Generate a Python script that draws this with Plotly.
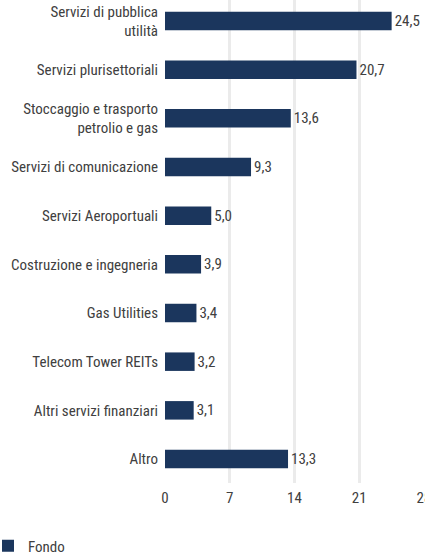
import plotly.graph_objects as go

categories = [
    "Servizi di pubblica<br>utilità",
    "Servizi plurisettoriali",
    "Stoccaggio e trasporto<br>petrolio e gas",
    "Servizi di comunicazione",
    "Servizi Aeroportuali",
    "Costruzione e ingegneria",
    "Gas Utilities",
    "Telecom Tower REITs",
    "Altri servizi finanziari",
    "Altro",
]
values = [24.5, 20.7, 13.6, 9.3, 5.0, 3.9, 3.4, 3.2, 3.1, 13.3]
x_ticks = [0, 7, 14, 21, 28]
series_name = "Fondo"

FONT = "Roboto Condensed, Roboto, sans-serif"
TEXT = "#404040"
BAR = "#1b365d"
FS = 15

fig = go.Figure(
    go.Bar(
        y=categories,
        x=values,
        orientation="h",
        name=series_name,
        marker=dict(color=BAR, line=dict(width=0)),
        width=0.38,
        text=values,
        texttemplate="%{x:.1f}",
        textposition="outside",
        cliponaxis=False,
        textfont=dict(family=FONT, size=FS, color=TEXT),
        showlegend=True,
    )
)

fig.update_layout(
    width=425,
    height=556,
    margin=dict(l=165, r=1, t=0, b=73),
    paper_bgcolor="white",
    plot_bgcolor="white",
    separators=",.",
    font=dict(family=FONT, size=FS, color=TEXT),
    bargap=0.6,
    xaxis=dict(
        range=[0, 28],
        tickvals=x_ticks,
        showgrid=True,
        gridcolor="#ebebeb",
        gridwidth=2.5,
        zeroline=False,
        showline=False,
        ticks="outside",
        ticklen=1,
        tickcolor="rgba(0,0,0,0)",
        tickfont=dict(family=FONT, size=FS, color=TEXT),
        ticklabeloverflow="allow",
        automargin=False,
        fixedrange=True,
    ),
    yaxis=dict(
        type="category",
        range=[9.493, -0.4315],
        showgrid=False,
        zeroline=False,
        showline=False,
        ticks="outside",
        ticklen=3,
        tickcolor="rgba(0,0,0,0)",
        tickfont=dict(family=FONT, size=FS, color=TEXT),
        automargin=False,
        fixedrange=True,
    ),
    legend=dict(
        orientation="h",
        xref="container",
        yref="container",
        x=0,
        xanchor="left",
        y=0.018,
        yanchor="middle",
        indentation=-12,
        font=dict(family=FONT, size=FS, color=TEXT),
        bgcolor="rgba(0,0,0,0)",
    ),
)

fig.write_html(
    "out.html",
    config={"displayModeBar": False},
    post_script="document.body.style.margin='0';document.body.style.overflow='hidden';",
)
